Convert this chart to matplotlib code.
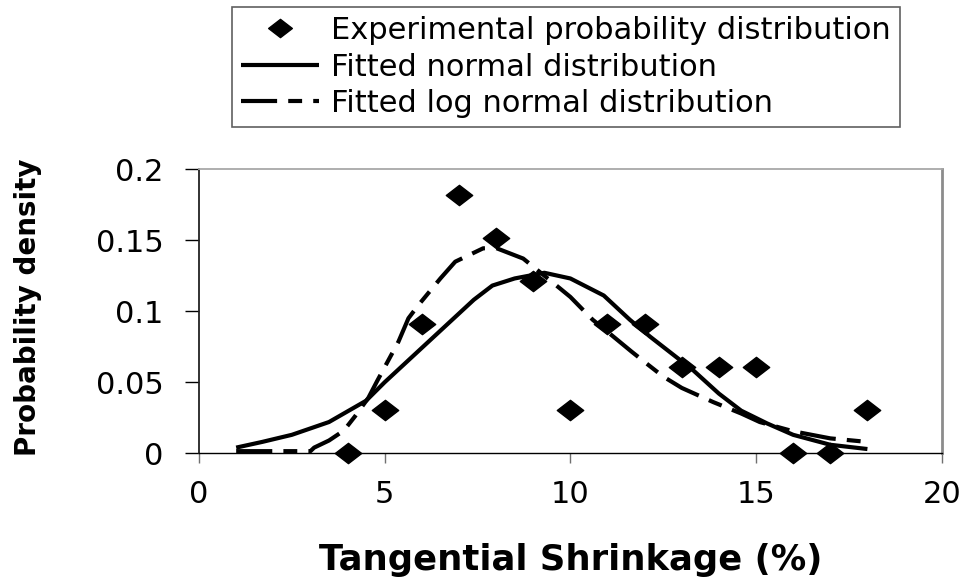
import numpy as np
import matplotlib.pyplot as plt
from matplotlib.path import Path

plt.rcParams['font.family'] = ['DejaVu Sans']
plt.rcParams['lines.scale_dashes'] = False

# 实验概率分布（收缩率 %，概率密度）
exp_x = [4, 5, 6, 7, 8, 9, 10, 11, 12, 13, 14, 15, 16, 17, 18]
exp_y = [0, 0.0303, 0.0909, 0.1818, 0.1515, 0.1212, 0.0303, 0.0909, 0.0909,
         0.0606, 0.0606, 0.0606, 0, 0, 0.0303]

# 拟合正态分布曲线（从图上读出的点）
norm_x = [1.0, 1.7, 2.5, 3.5, 4.5, 5.0, 7.4, 7.9, 8.5, 9.3, 10.0, 10.9, 11.6,
          12.15, 13.3, 14.0, 14.6, 15.3, 16.0, 17.0, 18.0]
norm_y = [0.004, 0.008, 0.013, 0.022, 0.037, 0.050, 0.108, 0.118, 0.123, 0.127,
          0.123, 0.111, 0.094, 0.082, 0.0586, 0.042, 0.030, 0.021, 0.013, 0.006, 0.003]

# 拟合对数正态分布曲线
logn_x = [1.0, 3.0, 3.1, 3.5, 3.9, 4.2, 4.56, 4.8, 5.37, 5.64, 5.9, 6.5, 6.9, 7.65,
          8.0, 8.73, 9.72, 10.0, 10.6, 11.0, 11.65, 12.06, 12.5, 13.0, 13.85, 14.6,
          15.1, 16.0, 17.0, 18.0]
logn_y = [0.0015, 0.0015, 0.004, 0.009, 0.016, 0.026, 0.039, 0.051, 0.0785, 0.095,
          0.104, 0.123, 0.1348, 0.1442, 0.1444, 0.137, 0.116, 0.110, 0.094, 0.0855,
          0.0715, 0.063, 0.054, 0.046, 0.036, 0.028, 0.022, 0.0155, 0.0105, 0.008]

xticks = [0, 5, 10, 15, 20]
yticks = [0, 0.05, 0.1, 0.15, 0.2]
ytick_labels = ['0', '0.05', '0.1', '0.15', '0.2']

# 宽菱形标记
diamond = Path([(-1, 0), (0, 0.77), (1, 0), (0, -0.77), (-1, 0)],
               [Path.MOVETO, Path.LINETO, Path.LINETO, Path.LINETO, Path.CLOSEPOLY])

fig = plt.figure(figsize=(9.69, 5.79), dpi=100)
ax = fig.add_axes([0.2054, 0.2171, 0.7664, 0.4910])

ax.plot(exp_x, exp_y, linestyle='none', marker=diamond, markersize=19,
        color='black', clip_on=False, zorder=5,
        label='Experimental probability distribution')
ax.plot(norm_x, norm_y, color='black', lw=3, solid_capstyle='butt',
        solid_joinstyle='round', label='Fitted normal distribution')
ax.plot(logn_x, logn_y, color='black', lw=3, dash_capstyle='butt',
        linestyle=(0, (26, 8, 10, 8)), label='Fitted log normal distribution')

ax.set_xlim(0, 20)
ax.set_ylim(0, 0.2)
ax.set_xticks(xticks)
ax.set_yticks(yticks)
ax.set_yticklabels(ytick_labels)
ax.tick_params(axis='y', direction='out', length=10, width=1, pad=15.5,
               labelsize=22, color='black')
ax.tick_params(axis='x', direction='out', length=7, width=1, pad=12.5,
               labelsize=22, color='#707070')

ax.spines['left'].set_color('#222222')
ax.spines['left'].set_linewidth(1.3)
ax.spines['bottom'].set_color('black')
ax.spines['bottom'].set_linewidth(1.0)
ax.spines['top'].set_color('#a8a8a8')
ax.spines['top'].set_linewidth(1.3)
ax.spines['right'].set_color('#8c8c8c')
ax.spines['right'].set_linewidth(2.0)

ax.set_xlabel('Tangential Shrinkage (%)', fontsize=25.5, fontweight='bold')
ax.xaxis.set_label_coords(0.501, -0.315)
ax.set_ylabel('Probability density', fontsize=20, fontweight='bold')
ax.yaxis.set_label_coords(-0.211, 0.513)

leg = ax.legend(loc='upper left', bbox_to_anchor=(0.2394, 0.9879),
                bbox_transform=fig.transFigure, borderaxespad=0,
                fontsize=22, frameon=True, fancybox=False, framealpha=1,
                edgecolor='#606060', borderpad=0.3, handlelength=2.55,
                handletextpad=0.4, labelspacing=0.24, markerscale=0.9)
leg.get_frame().set_linewidth(1.2)

plt.savefig('out.png', dpi=100)
